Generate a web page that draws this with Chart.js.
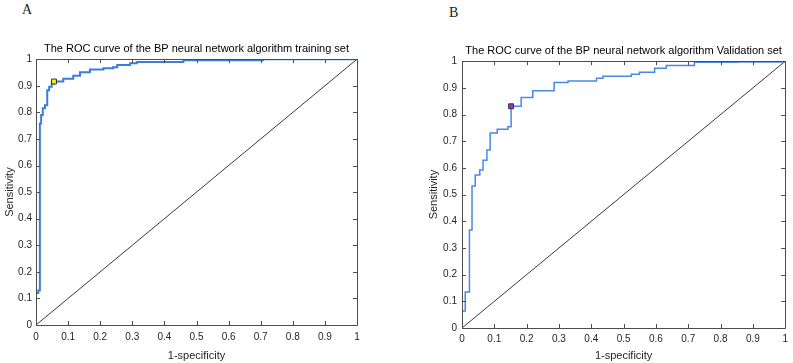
<!DOCTYPE html>
<html>
<head>
<meta charset="utf-8">
<script src="https://cdn.jsdelivr.net/npm/chart.js@4/dist/chart.umd.min.js"></script>
<style>
  html, body { margin: 0; padding: 0; background: #fff; }
  body { width: 793px; height: 363px; position: relative; overflow: hidden; }
  canvas { position: absolute; top: 0; }
  .lbl { position: absolute; font-family: "Liberation Serif", serif; font-size: 14px; color: #222; }
</style>
</head>
<body>
<div class="lbl" style="left:22px; top:2px;">A</div>
<div class="lbl" style="left:449px; top:5px;">B</div>
<canvas id="cA" width="396" height="363" style="left:0px;"></canvas>
<canvas id="cB" width="373" height="363" style="left:420px;"></canvas>
<script>
// ---- data ----
const tickValues = [0, 0.1, 0.2, 0.3, 0.4, 0.5, 0.6, 0.7, 0.8, 0.9, 1];
const tickLabels = ['0', '0.1', '0.2', '0.3', '0.4', '0.5', '0.6', '0.7', '0.8', '0.9', '1'];

const titleA = 'The ROC curve of the BP neural network algorithm training set';
const fprA = [0, 0, 0.007, 0.012, 0.016, 0.021, 0.028, 0.035, 0.041, 0.049, 0.056, 0.085, 0.116, 0.137, 0.168, 0.21, 0.24, 0.253, 0.293, 0.314, 0.459, 0.707, 1];
const tprA = [0, 0.12, 0.13, 0.758, 0.79, 0.815, 0.827, 0.883, 0.896, 0.909, 0.916, 0.926, 0.938, 0.951, 0.961, 0.966, 0.97, 0.978, 0.985, 0.989, 0.996, 1, 1];
const markerA = [0.056, 0.916];

const titleB = 'The ROC curve of the BP neural network algorithm Validation set';
const fprB = [0, 0, 0.01, 0.023, 0.031, 0.041, 0.055, 0.065, 0.077, 0.087, 0.109, 0.142, 0.152, 0.183, 0.219, 0.285, 0.328, 0.416, 0.436, 0.524, 0.549, 0.596, 0.632, 0.719, 0.853, 1];
const tprB = [0, 0.064, 0.135, 0.367, 0.532, 0.573, 0.592, 0.629, 0.667, 0.731, 0.745, 0.754, 0.831, 0.864, 0.889, 0.92, 0.926, 0.936, 0.944, 0.951, 0.959, 0.974, 0.984, 0.996, 0.997, 1];
const markerB = [0.152, 0.831];

const diagX = [0, 1];
const diagY = [0, 1];

// ---- helpers ----
const toPts = (xs, ys) => xs.map((x, i) => ({ x: x, y: ys[i] }));

const boxPlugin = {
  id: 'matlabBox',
  afterDatasetsDraw(chart) {
    const { ctx, chartArea: a, scales } = chart;
    const xs = scales.x, ys = scales.y;
    ctx.save();
    ctx.strokeStyle = '#4d4d4d';
    ctx.lineWidth = 1;
    ctx.beginPath();
    ctx.rect(Math.round(a.left) + 0.5, Math.round(a.top) + 0.5, Math.round(a.right - a.left), Math.round(a.bottom - a.top));
    const tl = 4;
    tickValues.forEach(v => {
      const px = Math.round(xs.getPixelForValue(v)) + 0.5;
      ctx.moveTo(px, a.bottom); ctx.lineTo(px, a.bottom - tl);
      ctx.moveTo(px, a.top); ctx.lineTo(px, a.top + tl);
      const py = Math.round(ys.getPixelForValue(v)) + 0.5;
      ctx.moveTo(a.left, py); ctx.lineTo(a.left + tl, py);
      ctx.moveTo(a.right, py); ctx.lineTo(a.right - tl, py);
    });
    ctx.stroke();
    ctx.restore();
  }
};

function makeChart(id, o) {
  const fontFam = '"Liberation Sans", Arial, sans-serif';
  return new Chart(document.getElementById(id), {
    type: 'scatter',
    data: {
      datasets: [
        {
          data: [{ x: o.marker[0], y: o.marker[1] }],
          pointStyle: 'rect', pointRadius: 3.5, pointBackgroundColor: o.markerColor,
          pointBorderColor: '#333', pointBorderWidth: 1, showLine: false
        },
        {
          data: toPts(o.fpr, o.tpr), showLine: true, stepped: true,
          borderColor: o.lineColor, borderWidth: o.lineWidth, pointRadius: 0, fill: false
        },
        {
          data: toPts(diagX, diagY), showLine: true,
          borderColor: '#3a3a3a', borderWidth: 1, pointRadius: 0, fill: false
        }
      ]
    },
    options: {
      responsive: false, animation: false, devicePixelRatio: 1,
      layout: { padding: { left: 0, right: o.padRight, top: 0, bottom: 0 } },
      plugins: {
        legend: { display: false }, tooltip: { enabled: false },
        title: {
          display: true, text: o.title, color: '#000', fullSize: false,
          font: { family: fontFam, size: 11, weight: 'normal' },
          padding: { top: o.titleTop, bottom: o.titleBottom }
        }
      },
      scales: {
        x: {
          type: 'linear', min: 0, max: 1,
          afterBuildTicks: s => { s.ticks = tickValues.map(v => ({ value: v })); },
          afterFit: s => { s.height = o.xHeight; },
          ticks: {
            callback: (v, i) => tickLabels[i], color: '#262626', padding: o.xTickPad,
            maxRotation: 0, autoSkip: false, font: { family: fontFam, size: 10 }
          },
          grid: { display: false, drawTicks: false },
          border: { display: false },
          title: {
            display: true, text: '1-specificity', color: '#262626',
            font: { family: fontFam, size: 11 }, padding: { top: o.xTitlePad, bottom: 0 }
          }
        },
        y: {
          type: 'linear', min: 0, max: 1,
          afterBuildTicks: s => { s.ticks = tickValues.map(v => ({ value: v })); },
          afterFit: s => { s.width = o.yWidth; },
          ticks: {
            callback: (v, i) => tickLabels[i], color: '#262626', padding: o.yTickPad,
            autoSkip: false, font: { family: fontFam, size: 10 }
          },
          grid: { display: false, drawTicks: false },
          border: { display: false },
          title: {
            display: true, text: 'Sensitivity', color: '#262626',
            font: { family: fontFam, size: 11 }, padding: { top: o.yTitlePad, bottom: 0 }
          }
        }
      }
    },
    plugins: [boxPlugin]
  });
}

makeChart('cA', {
  title: titleA, fpr: fprA, tpr: tprA, marker: markerA, markerColor: '#f2f200',
  lineColor: '#3b7ddd', lineWidth: 2,
  padRight: 39, yWidth: 36, xHeight: 38, titleTop: 42, titleBottom: 4,
  xTickPad: 6, yTickPad: 4, xTitlePad: 6, yTitlePad: 3
});
makeChart('cB', {
  title: titleB, fpr: fprB, tpr: tprB, marker: markerB, markerColor: '#a526e6',
  lineColor: '#4a88e6', lineWidth: 1.5,
  padRight: 7, yWidth: 42, xHeight: 35, titleTop: 44, titleBottom: 4,
  xTickPad: 5, yTickPad: 5, xTitlePad: 3, yTitlePad: 7
});
</script>
</body>
</html>
